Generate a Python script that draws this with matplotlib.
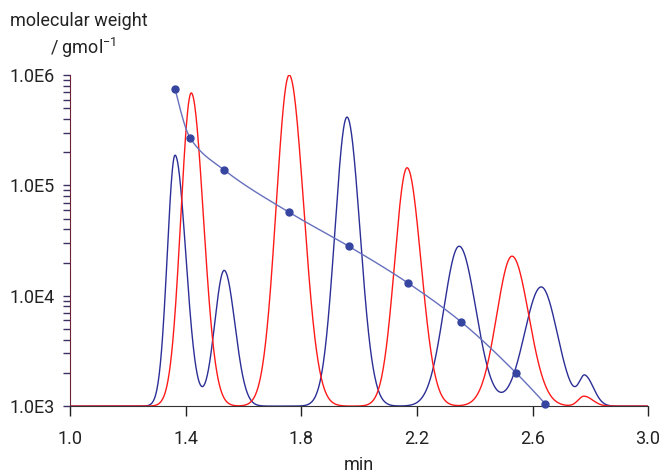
import numpy as np
import matplotlib
matplotlib.use("Agg")
import matplotlib.pyplot as plt
from matplotlib.ticker import FixedLocator, LogLocator, FuncFormatter, NullFormatter

plt.rcParams['font.family'] = ['Roboto', 'DejaVu Sans']

# calibration standards: retention time (min) and molecular weight (g/mol)
cal_time = [1.363, 1.415, 1.533, 1.758, 1.965, 2.170, 2.353, 2.543, 2.644]
cal_mw = [7.5e5, 2.7e5, 1.38e5, 5.7e4, 2.8e4, 1.3e4, 5.8e3, 2.0e3, 1.05e3]

# chromatogram peaks (relative height, left / right width in min)
blue_rt = [1.363, 1.533, 1.958, 2.346, 2.630, 2.782]
blue_h = [0.758, 0.41, 0.873, 0.483, 0.36, 0.085]
blue_wl = [0.027, 0.033, 0.042, 0.053, 0.058, 0.020]
blue_wr = [0.037, 0.037, 0.045, 0.058, 0.056, 0.030]

red_rt = [1.419, 1.758, 2.166, 2.529, 2.778]
red_h = [0.946, 1.0, 0.72, 0.453, 0.03]
red_wl = [0.036, 0.045, 0.043, 0.053, 0.020]
red_wr = [0.042, 0.050, 0.048, 0.058, 0.030]

xticks = [1.0, 1.4, 1.8, 2.2, 2.6, 3.0]


def trace(t, rts, hs, wl, wr):
    y = np.zeros_like(t)
    for c, h, a, b in zip(rts, hs, wl, wr):
        s = np.where(t < c, a, b)
        y += h * np.exp(-0.5 * ((t - c) / s) ** 2)
    return y


def pchip(x, y, xn):
    x = np.asarray(x, float)
    y = np.asarray(y, float)
    h = np.diff(x)
    dl = np.diff(y) / h
    d = np.zeros_like(y)
    for k in range(1, len(x) - 1):
        if dl[k - 1] * dl[k] > 0:
            w1 = 2 * h[k] + h[k - 1]
            w2 = h[k] + 2 * h[k - 1]
            d[k] = (w1 + w2) / (w1 / dl[k - 1] + w2 / dl[k])
    d[0] = ((2 * h[0] + h[1]) * dl[0] - h[0] * dl[1]) / (h[0] + h[1])
    d[-1] = ((2 * h[-1] + h[-2]) * dl[-1] - h[-1] * dl[-2]) / (h[-1] + h[-2])
    i = np.clip(np.searchsorted(x, xn) - 1, 0, len(x) - 2)
    s = (xn - x[i]) / h[i]
    h00 = 2 * s ** 3 - 3 * s ** 2 + 1
    h10 = s ** 3 - 2 * s ** 2 + s
    h01 = -2 * s ** 3 + 3 * s ** 2
    h11 = s ** 3 - s ** 2
    return h00 * y[i] + h10 * h[i] * d[i] + h01 * y[i + 1] + h11 * h[i] * d[i + 1]


fig = plt.figure(figsize=(6.62, 4.75), dpi=100)
ax = fig.add_axes([0.106, 0.145, 0.873, 0.697])
ax2 = ax.twinx()

t = np.linspace(1.0, 3.0, 1500)
ax2.plot(t, trace(t, blue_rt, blue_h, blue_wl, blue_wr), color="#2b2f96", lw=1.0)
ax2.plot(t, trace(t, red_rt, red_h, red_wl, red_wr), color="#ff1a1a", lw=1.0)
ax2.set_ylim(0, 1.0)
ax2.set_axis_off()

# calibration curve, smooth through the standards in log space
tc = np.linspace(cal_time[0], cal_time[-1], 400)
ax.plot(tc, 10 ** pchip(cal_time, np.log10(cal_mw), tc), color="#6670bd", lw=1.0, zorder=3)
ax.plot(cal_time, cal_mw, "o", color="#3545a0", ms=5, zorder=4, clip_on=False)

ax.set_zorder(ax2.get_zorder() + 1)
ax.patch.set_visible(False)

ax.set_yscale("log")
ax.set_ylim(1e3, 1e6)
ax.set_xlim(1.0, 3.0)
ax.yaxis.set_major_locator(LogLocator(base=10, numticks=10))
ax.yaxis.set_minor_locator(LogLocator(base=10, subs=np.arange(2, 10), numticks=10))
ax.yaxis.set_major_formatter(FuncFormatter(lambda v, pos: "1.0E%d" % round(np.log10(v))))
ax.yaxis.set_minor_formatter(NullFormatter())
ax.xaxis.set_major_locator(FixedLocator(xticks))
ax.xaxis.set_major_formatter(FuncFormatter(lambda v, pos: "%.1f" % v))

for s in ["top", "right"]:
    ax.spines[s].set_visible(False)
ax.spines["left"].set_color("#6e2035")
ax.spines["bottom"].set_color("#333333")
ax.tick_params(axis="y", which="both", direction="out", colors="#3d2f63", length=5, width=1.0,
               labelsize=13, labelcolor="#222222", pad=6)
ax.tick_params(axis="x", which="major", direction="out", length=7, width=1, color="#222222",
               labelsize=13, labelcolor="#222222", pad=10)

ax.set_xlabel("min", fontsize=13, color="#222222", labelpad=6)
fig.text(0.015, 0.955, "molecular weight", fontsize=13, color="#222222", ha="left", va="center")
fig.text(0.075, 0.898, r"/ gmol$^{\mathregular{-1}}$", fontsize=13, color="#222222", ha="left", va="center")

fig.savefig("out.png", dpi=100)
